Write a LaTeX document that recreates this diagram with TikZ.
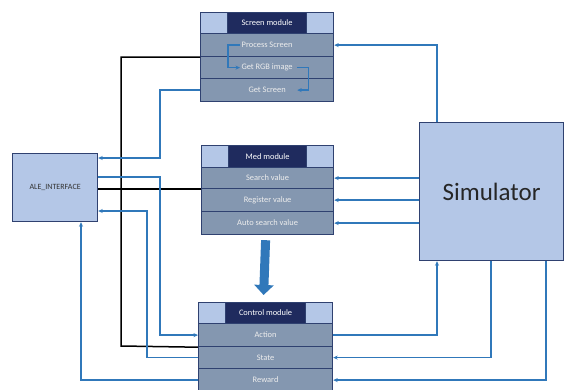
\documentclass[tikz,border=0pt]{standalone}
\usepackage{fontspec}
\setmainfont{Carlito}
\usetikzlibrary{arrows.meta,calc}
\definecolor{navy}{HTML}{1F2B5E}
\definecolor{lightblue}{HTML}{B4C7E7}
\definecolor{rowfill}{HTML}{8497B0}
\definecolor{edge}{HTML}{2F4170}
\definecolor{wire}{HTML}{3078BA}
\definecolor{rowtext}{HTML}{EDEDED}
\tikzset{
  modrow/.style={rectangle, draw=edge, line width=1.2pt, fill=rowfill, anchor=north west,
    minimum width=#1, inner sep=0pt, text=rowtext, font=\fontsize{8.4}{10}\selectfont},
  modhead/.style={rectangle, draw=edge, line width=1.2pt, fill=navy, anchor=north west,
    minimum width=#1, inner sep=0pt, text=white, font=\fontsize{8.4}{10}\selectfont},
  corner/.style={rectangle, draw=edge, line width=1.2pt, fill=lightblue, inner sep=0pt,
    minimum width=27pt},
  bigbox/.style={rectangle, draw=edge, line width=1.2pt, fill=lightblue, anchor=north west, inner sep=0pt},
  bl/.style={draw=wire, line width=1.3pt, -{Stealth[length=4.5pt,width=4pt]}},
  blk/.style={draw=black, line width=1.5pt},
}
\begin{document}
\begin{tikzpicture}[x=1pt,y=-1pt]
\useasboundingbox (0,0) rectangle (570,389);

% Screen module
\node[modhead=133pt, minimum height=21pt] (scrhead) at (200,12) {Screen module};
\node[corner, anchor=north west, minimum height=21pt] (scrL) at (scrhead.north west) {};
\node[corner, anchor=north east, minimum height=21pt] (scrR) at (scrhead.north east) {};
\node[modrow=133pt, minimum height=23pt] (proc) at (200,33) {Process Screen};
\node[modrow=133pt, minimum height=22pt] (rgb) at (200,56) {Get RGB image};
\node[modrow=133pt, minimum height=23pt] (getscr) at (200,78) {Get Screen};

% Med module
\node[modhead=132pt, minimum height=22pt] (medhead) at (201,145) {Med module};
\node[corner, anchor=north west, minimum height=22pt] (medL) at (medhead.north west) {};
\node[corner, anchor=north east, minimum height=22pt] (medR) at (medhead.north east) {};
\node[modrow=132pt, minimum height=21pt] (search) at (201,167) {Search value};
\node[modrow=132pt, minimum height=23pt] (register) at (201,188) {Register value};
\node[modrow=132pt, minimum height=23pt] (autosv) at (201,211) {Auto search value};

% Control module
\node[modhead=134pt, minimum height=21pt] (ctlhead) at (198,302) {Control module};
\node[corner, anchor=north west, minimum height=21pt] (ctlL) at (ctlhead.north west) {};
\node[corner, anchor=north east, minimum height=21pt] (ctlR) at (ctlhead.north east) {};
\node[modrow=134pt, minimum height=23pt] (action) at (198,323) {Action};
\node[modrow=134pt, minimum height=22pt] (state) at (198,346) {State};
\node[modrow=134pt, minimum height=23pt] (reward) at (198,368) {Reward};

% ALE interface and simulator
\node[bigbox, minimum width=85pt, minimum height=68pt, font=\fontsize{8}{10}\selectfont, text=black!80]
  (ale) at (12,153) {ALE\_INTERFACE};
\node[bigbox, minimum width=144pt, minimum height=138pt, font=\fontsize{25}{30}\selectfont, text=black!85]
  (sim) at (419,122) {Simulator};

% Simulator outputs and inputs
\draw[bl] ([xshift=18pt]sim.north west) |- (proc.east);
\draw[bl] (sim.west |- search.east) -- (search.east);
\draw[bl] (sim.west |- register.east) -- (register.east);
\draw[bl] (sim.west |- autosv.east) -- (autosv.east);
\draw[bl] (action.east) -| ([xshift=18pt]sim.south west);
\draw[bl] ([xshift=72pt]sim.south west) |- (state.east);
\draw[bl] ([xshift=127pt]sim.south west) |- (reward.east);

% Flow inside the screen module
\draw[bl] ([xshift=40pt]proc.west) -- ([xshift=28pt]proc.west) |- ([xshift=40pt]rgb.west);
\draw[bl] ([xshift=-37pt]rgb.east) -- ([xshift=-26pt]rgb.east) |- ([xshift=-37pt]getscr.east);

% Black links
\coordinate (k1) at (121,346);
\draw[blk] (proc.south west) -| (k1) -- (action.south west);
\draw[blk] (ale.east |- search.south west) -- (search.south west);

% Blue links on the left
\coordinate (c1) at (160,158);
\draw[bl] (getscr.west) -| (c1) -- (ale.east |- c1);
\coordinate (c2) at (160,177);
\draw[bl] (ale.east |- c2) -- (c2) |- (action.west);
\coordinate (c3) at (147,211);
\draw[bl] (state.west) -| (c3) -- (ale.east |- c3);
\draw[bl] (reward.west) -| ([xshift=69pt]ale.south west);

% Big arrow from the med module to the control module
\draw[draw=wire, line width=9pt, -{Triangle[width=19pt,length=10pt]}]
  ([shift={(-2pt,-5pt)}]autosv.south) -- ([shift={(-2pt,7pt)}]ctlhead.north);
\end{tikzpicture}
\end{document}
